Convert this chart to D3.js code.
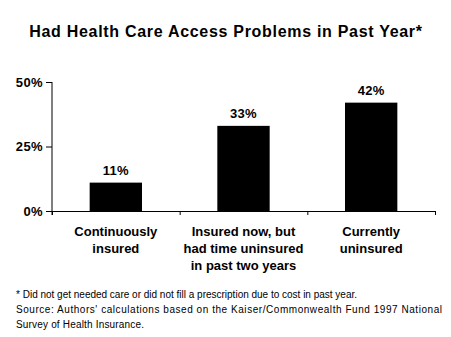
<!DOCTYPE html>
<html>
<head>
<meta charset="utf-8">
<script src="https://cdn.jsdelivr.net/npm/d3@7"></script>
<style>
  body { margin: 0; background: #fff; }
  svg { display: block; font-family: Arial, "Liberation Sans", sans-serif; }
</style>
</head>
<body>
<div id="chart"></div>
<script>
const categories = [
  ["Continuously", "insured"],
  ["Insured now, but", "had time uninsured", "in past two years"],
  ["Currently", "uninsured"]
];
const values = [11, 33, 42];
const yTicks = [0, 25, 50];
const notes = [
  "* Did not get needed care or did not fill a prescription due to cost in past year.",
  "Source: Authors' calculations based on the Kaiser/Commonwealth Fund 1997 National",
  "Survey of Health Insurance."
];

const width = 451, height = 337;
const plotLeft = 52, plotRight = 435, plotTop = 82, plotBottom = 211;

const svg = d3.select("#chart").append("svg")
  .attr("width", width)
  .attr("height", height);

// title
svg.append("text")
  .attr("x", 226)
  .attr("y", 37)
  .attr("text-anchor", "middle")
  .style("font-size", "16px")
  .style("font-weight", "bold")
  .style("letter-spacing", "0.7px")
  .text("Had Health Care Access Problems in Past Year*");

const x = d3.scaleBand()
  .domain(d3.range(values.length))
  .range([plotLeft, plotRight])
  .paddingInner(0.59)
  .paddingOuter(0.295);

const xAxisScale = d3.scaleLinear().domain([0, values.length]).range([plotLeft, plotRight]);

const y = d3.scaleLinear()
  .domain([0, 50])
  .range([plotBottom, plotTop]);

// bars
svg.selectAll("rect.bar")
  .data(values)
  .enter()
  .append("rect")
  .attr("class", "bar")
  .attr("x", (d, i) => x(i))
  .attr("y", d => y(d))
  .attr("width", x.bandwidth())
  .attr("height", d => plotBottom - y(d))
  .attr("fill", "#000");

// value labels
svg.selectAll("text.val")
  .data(values)
  .enter()
  .append("text")
  .attr("class", "val")
  .attr("x", (d, i) => x(i) + x.bandwidth() / 2)
  .attr("y", d => y(d) - 8)
  .attr("text-anchor", "middle")
  .style("font-size", "13px")
  .style("font-weight", "bold")
  .style("letter-spacing", "0.3px")
  .text(d => d + "%");

// y axis
const yAxis = svg.append("g")
  .attr("transform", "translate(" + plotLeft + ",0)")
  .call(d3.axisLeft(y).tickValues(yTicks).tickSize(6).tickFormat(d => d + "%"));
yAxis.select(".domain").attr("d", "M0," + plotTop + "V" + (plotBottom + 4));
yAxis.selectAll("text")
  .attr("x", -9)
  .style("font-size", "13px")
  .style("font-weight", "bold")
  .style("letter-spacing", "0.4px")
  .style("font-family", "Arial, 'Liberation Sans', sans-serif")
  .attr("fill", "#000");

// x axis
const xAxis = svg.append("g")
  .attr("transform", "translate(0," + plotBottom + ")")
  .call(d3.axisBottom(xAxisScale).tickValues(d3.range(values.length + 1)).tickSize(4).tickSizeOuter(0).tickFormat(""));
xAxis.selectAll("path, line").attr("stroke", "#000");
yAxis.selectAll("path, line").attr("stroke", "#000");

// category labels
categories.forEach((lines, i) => {
  const t = svg.append("text")
    .attr("x", x(i) + x.bandwidth() / 2)
    .attr("y", 236)
    .attr("text-anchor", "middle")
    .style("font-size", "13px")
    .style("font-weight", "bold");
  lines.forEach((ln, j) => {
    t.append("tspan")
      .attr("x", x(i) + x.bandwidth() / 2)
      .attr("dy", j === 0 ? 0 : 17)
      .text(ln);
  });
});

// footnotes
const noteY = [298, 313, 328];
const noteW = [341, 426, 128];
svg.selectAll("text.note")
  .data(notes)
  .enter()
  .append("text")
  .attr("class", "note")
  .attr("x", 16)
  .attr("y", (d, i) => noteY[i])
  .attr("textLength", (d, i) => noteW[i])
  .attr("lengthAdjust", "spacing")
  .style("font-size", "10px")
  .text(d => d);
</script>
</body>
</html>
